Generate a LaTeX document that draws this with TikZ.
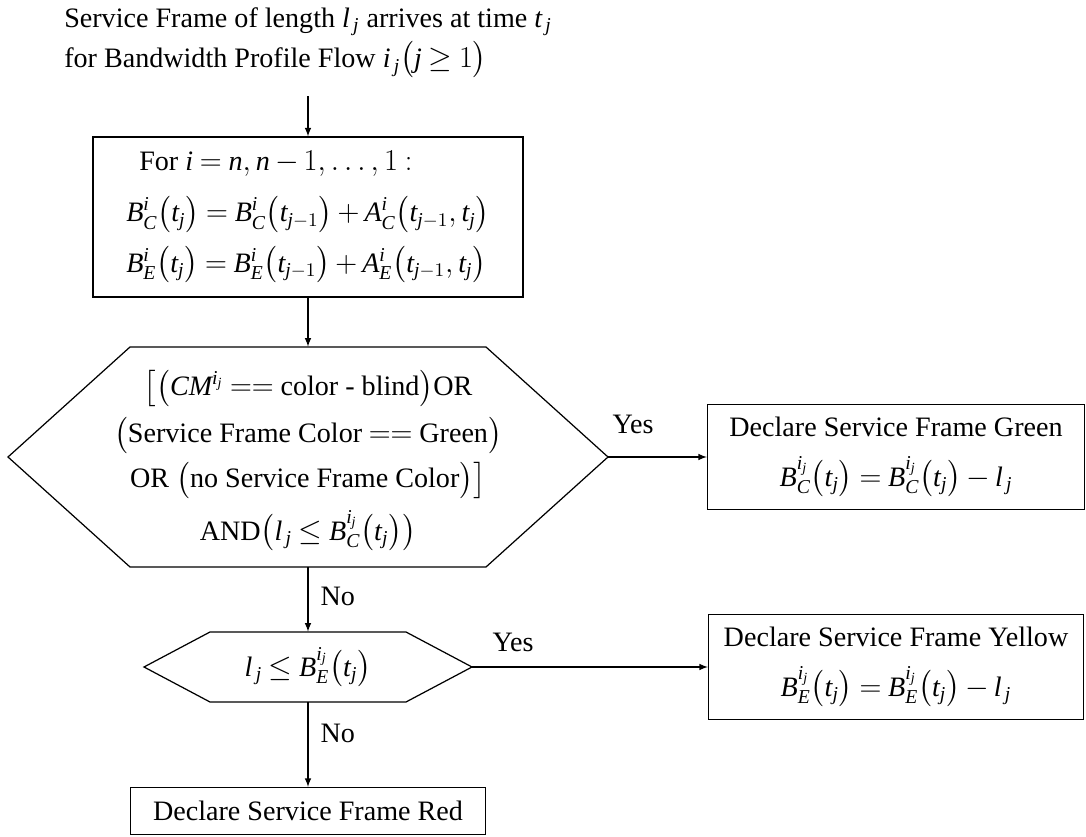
\documentclass[tikz,border=0pt]{standalone}
\usepackage{amsmath}
\usepackage{fontspec}
\setmainfont{Liberation Serif}
\newfontfamily\libser{Liberation Serif}[NFSSFamily=libser]
\DeclareSymbolFont{libit}{TU}{libser}{m}{it}
\DeclareSymbolFont{libup}{TU}{libser}{m}{n}
\DeclareMathSymbol{A}{\mathalpha}{libit}{`A}
\DeclareMathSymbol{B}{\mathalpha}{libit}{`B}
\DeclareMathSymbol{C}{\mathalpha}{libit}{`C}
\DeclareMathSymbol{E}{\mathalpha}{libit}{`E}
\DeclareMathSymbol{M}{\mathalpha}{libit}{`M}
\DeclareMathSymbol{i}{\mathalpha}{libit}{`i}
\DeclareMathSymbol{j}{\mathalpha}{libit}{`j}
\DeclareMathSymbol{l}{\mathalpha}{libit}{`l}
\DeclareMathSymbol{n}{\mathalpha}{libit}{`n}
\DeclareMathSymbol{t}{\mathalpha}{libit}{`t}
\DeclareMathSymbol{1}{\mathalpha}{libup}{`1}
\usetikzlibrary{arrows,calc,positioning}
\thickmuskip=4mu plus 2mu
\medmuskip=3mu plus 1mu
\tikzstyle{box}=[
  draw,
  rectangle,
  inner sep=0pt,
  align=center,
  line width=0.7pt,
]
\tikzstyle{test}=[
  rectangle,
  inner sep=0pt,
  align=center,
  minimum width=1cm,
]
\tikzstyle{hexa}=[
  line width=0.7pt,
]
\tikzstyle{arrow}=[
  ->,
  line width=0.7pt,
]
\tikzstyle{arrowlabel}=[
  inner sep=0pt,
]
\tikzset{
  x=0.02cm,
  y=-0.02cm,
  >=latex,
}

\begin{document}
\begin{tikzpicture}[font=\fontsize{16}{20}\selectfont]
      \useasboundingbox (0,0) rectangle (1086,837);
      \node (arrival) [anchor=north, align=left, inner sep=0pt] at (308,7)
        {Service Frame of length $l_{\,j}$ arrives at time $t_{\,j}$\\[3pt]
         for Bandwidth Profile Flow $i_{\,j}\bigl(j\geq 1\bigr)$};
      \coordinate [below=0.35cm of arrival] (start);
      %%
      \node (upd) [box, minimum width=8.6cm, minimum height=3.2cm, align=left] at (308,217)
        {\hspace*{0.26cm}For $i=n,n-1,\ldots,1:$\\[9pt]
         $B_C^i\bigl(t_j\bigr)=B_C^i\bigl(t_{j-1}\bigr)+A_C^i\bigl(t_{j-1},t_j\bigr)$\\[7pt]
         $B_E^i\bigl(t_j\bigr)=B_E^i\bigl(t_{j-1}\bigr)+A_E^i\bigl(t_{j-1},t_j\bigr)$};
      %%
      \node (check) [test, minimum height=4.4cm] at (308,457)
        {\rule{0pt}{0.65cm}$\bigl[\bigl(CM^{i_j}==\text{color - blind}\bigr)\text{OR}$\\[5pt]
         $\bigl(\text{Service Frame Color}==\text{Green}\bigr)$\\[4pt]
         OR $\bigl(\text{no Service Frame Color}\bigr)\bigr]$\\[6pt]
         AND$\bigl(l_{\,j}\le B_C^{i_j}\bigl(t_j\bigr)\bigr)$};
      \coordinate (checkW) at ($(check)-(300,0)$);
      \coordinate (checkE) at ($(check)+(300,0)$);
      \draw [hexa] ($(check)+(-178,-110)$) -- ($(check)+(178,-110)$) -- (checkE)
      -- ($(check)+(178,110)$) -- ($(check)+(-178,110)$) -- (checkW) -- cycle;
      %%
      \node (green) [box, minimum width=7.54cm, minimum height=2.1cm] at (896,457)
        {Declare Service Frame Green\\[8pt]
         $B_C^{i_j}\bigl(t_j\bigr)=B_C^{i_j}\bigl(t_j\bigr)-l_{\,j}$};
      %%
      \node (cap) [test, minimum height=1.4cm] at (308,667)
        {$l_{\,j}\le B_E^{i_j}\bigl(t_j\bigr)$};
      \coordinate (capW) at ($(cap)-(164,0)$);
      \coordinate (capE) at ($(cap)+(164,0)$);
      \draw [hexa] ($(cap)+(-98,-35)$) -- ($(cap)+(98,-35)$) -- (capE)
      -- ($(cap)+(98,35)$) -- ($(cap)+(-98,35)$) -- (capW) -- cycle;
      %%
      \node (yellow) [box, minimum width=7.5cm, minimum height=2.1cm] at (896,667)
        {Declare Service Frame Yellow\\[8pt]
         $B_E^{i_j}\bigl(t_j\bigr)=B_E^{i_j}\bigl(t_j\bigr)-l_{\,j}$};
      \node (red) [box, minimum width=7.1cm, minimum height=0.94cm] at (308,811)
        {Declare Service Frame Red};
      %%
      \draw [arrow] (start) -- (upd);
      \draw [arrow] (upd) -- (check);
      \draw [arrow] (checkE) -- node [arrowlabel, pos=0, anchor=south west,
        above right=0.46cm and 0.08cm] {Yes} (green);
      \draw [arrow] (check) -- node [arrowlabel, pos=0.45, right=0.24cm] {No} (cap);
      \draw [arrow] (capE) -- node [arrowlabel, pos=0, anchor=south west,
        above right=0.3cm and 0.4cm] {Yes} (yellow);
      \draw [arrow] (cap) -- node [arrowlabel, pos=0.37, right=0.24cm] {No} (red);
    \end{tikzpicture}
\end{document}
